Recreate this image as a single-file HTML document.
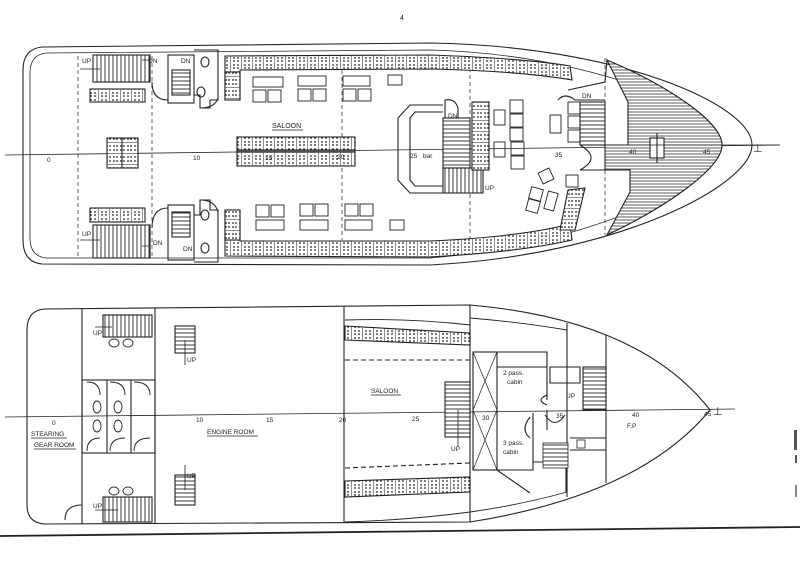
<!DOCTYPE html>
<html><head><meta charset="utf-8"><style>
html,body{margin:0;padding:0;background:#fff;}
svg{display:block;}
text{font-family:"Liberation Sans",sans-serif;fill:#222;}
</style></head><body>
<svg width="800" height="577" viewBox="0 0 800 577" xmlns="http://www.w3.org/2000/svg">
<defs>
<pattern id="seat" width="11" height="7" patternUnits="userSpaceOnUse">
<rect width="11" height="7" fill="#fff"/>
<circle cx="3" cy="2" r="0.9" fill="#222"/><circle cx="7" cy="2" r="0.9" fill="#222"/>
<circle cx="3" cy="5" r="0.9" fill="#222"/><circle cx="7" cy="5" r="0.9" fill="#222"/>
<line x1="10.5" y1="0" x2="10.5" y2="7" stroke="#444" stroke-width="0.6"/>
</pattern>
<pattern id="seatv" width="7" height="11" patternUnits="userSpaceOnUse">
<rect width="7" height="11" fill="#fff"/>
<circle cx="2" cy="3" r="0.9" fill="#222"/><circle cx="5" cy="3" r="0.9" fill="#222"/>
<circle cx="2" cy="7" r="0.9" fill="#222"/><circle cx="5" cy="7" r="0.9" fill="#222"/>
<line x1="0" y1="10.5" x2="7" y2="10.5" stroke="#444" stroke-width="0.6"/>
</pattern>
<pattern id="hatch" width="4" height="3" patternUnits="userSpaceOnUse">
<rect width="4" height="3" fill="#fff"/><line x1="0" y1="1" x2="4" y2="1" stroke="#333" stroke-width="0.8"/>
</pattern>
<pattern id="stairv" width="4" height="10" patternUnits="userSpaceOnUse">
<rect width="4" height="10" fill="#fff"/><line x1="1" y1="0" x2="1" y2="10" stroke="#222" stroke-width="0.9"/>
</pattern>
<pattern id="stairh" width="10" height="4" patternUnits="userSpaceOnUse">
<rect width="10" height="4" fill="#fff"/><line x1="0" y1="1" x2="10" y2="1" stroke="#222" stroke-width="0.9"/>
</pattern>
</defs>

<g fill="none" stroke="#222" stroke-width="1.1">
<!-- ================= UPPER DECK ================= -->
<path d="M42 47 L430 43 C620 46 752 105 752 145 C752 185 620 255 430 265 L42 264 Q23 262 23 240 L23 70 Q23 49 42 47 Z"/>
<path d="M46 53 L430 50 C590 54 722 110 722 145 C722 180 590 245 430 258 L46 258 Q30 256 30 238 L30 73 Q30 55 46 53 Z" stroke-width="0.8"/>
<!-- centerline -->
<line x1="5" y1="155" x2="780" y2="145" stroke-width="0.8"/>
<!-- dashed frames -->
<g stroke-dasharray="4,3" stroke-width="0.7">
<line x1="78" y1="56" x2="78" y2="256"/><line x1="152" y1="56" x2="152" y2="256"/>
<line x1="342" y1="70" x2="342" y2="240"/><line x1="470" y1="68" x2="470" y2="240"/>
<line x1="605" y1="58" x2="605" y2="235"/>
</g>
<!-- top seat strip -->
<path d="M225 56 L430 55 Q520 58 570 66 L572 80 Q520 71 430 69 L240 70 L240 100 L225 100 Z" fill="url(#seat)"/>
<path d="M225 256 L430 257 Q520 252 572 240 L570 224 Q520 237 430 241 L240 241 L240 210 L225 210 Z" fill="url(#seat)"/>
<!-- center bench -->
<rect x="237" y="137" width="118" height="13" fill="url(#seat)"/>
<rect x="237" y="152" width="118" height="14" fill="url(#seat)"/>
<rect x="237" y="150" width="118" height="2" fill="#888"/>
<!-- left table -->
<rect x="107" y="138" width="31" height="30" fill="url(#seatv)"/>
<line x1="122" y1="138" x2="122" y2="168"/>
<!-- left stairs -->
<rect x="93" y="55" width="57" height="27" fill="url(#stairv)"/>
<rect x="90" y="89" width="55" height="13" fill="url(#seat)"/>
<rect x="93" y="225" width="57" height="33" fill="url(#stairv)"/>
<rect x="90" y="208" width="55" height="14" fill="url(#seat)"/>
<path d="M80 69 L100 69 M80 240 L100 240 M142 60 L150 60 M142 246 L150 246" stroke-width="0.8"/>
<!-- stair boxes and toilets -->
<rect x="168" y="55" width="26" height="48"/>
<rect x="172" y="70" width="18" height="25" fill="url(#stairh)"/>
<rect x="168" y="205" width="26" height="55"/>
<rect x="172" y="212" width="18" height="25" fill="url(#stairh)"/>
<path d="M194 50 L218 50 L218 100 L210 100 L210 108 L200 108 L200 95 L194 95"/>
<path d="M194 262 L218 262 L218 210 L210 210 L210 200 L200 200 L200 215 L194 215"/>
<path d="M152 82 Q152 100 168 100" /><path d="M152 228 Q152 208 168 208"/>
<path d="M200 108 Q215 108 218 98"/><path d="M200 200 Q215 200 218 212"/>
<ellipse cx="205" cy="62" rx="4" ry="5"/><ellipse cx="201" cy="92" rx="4" ry="5"/>
<ellipse cx="205" cy="215" rx="4" ry="5"/><ellipse cx="205" cy="248" rx="4" ry="5"/>
<rect x="225" y="72" width="15" height="28" fill="url(#seatv)"/>
<rect x="225" y="210" width="15" height="30" fill="url(#seatv)"/>
<!-- saloon tables -->
<g stroke-width="0.9">
<rect x="253" y="77" width="30" height="10"/><rect x="298" y="76" width="28" height="10"/><rect x="343" y="76" width="27" height="10"/><rect x="388" y="75" width="14" height="10"/>
<rect x="253" y="90" width="13" height="12"/><rect x="268" y="90" width="13" height="12"/>
<rect x="298" y="89" width="13" height="12"/><rect x="313" y="89" width="13" height="12"/>
<rect x="343" y="89" width="13" height="12"/><rect x="358" y="89" width="13" height="12"/>
<rect x="256" y="220" width="28" height="10"/><rect x="300" y="220" width="28" height="10"/><rect x="345" y="220" width="27" height="10"/><rect x="390" y="220" width="14" height="10"/>
<rect x="256" y="205" width="13" height="12"/><rect x="271" y="205" width="13" height="12"/>
<rect x="300" y="204" width="13" height="12"/><rect x="315" y="204" width="13" height="12"/>
<rect x="345" y="204" width="13" height="12"/><rect x="360" y="204" width="13" height="12"/>
</g>
<!-- bar -->
<path d="M443 105 L410 105 L398 118 L398 180 L410 193 L443 193"/>
<path d="M443 112 L415 112 L410 118 L410 180 L415 186 L443 186"/>
<rect x="443" y="118" width="27" height="50" fill="url(#stairh)"/>
<rect x="443" y="168" width="40" height="25" fill="url(#stairv)"/>
<path d="M445 118 L445 100 Q455 98 458 108 L458 118"/>
<rect x="472" y="102" width="17" height="68" fill="url(#seatv)"/>
<g stroke-width="0.9">
<rect x="494" y="110" width="11" height="15"/><rect x="494" y="142" width="11" height="15"/>
<rect x="510" y="100" width="13" height="13"/><rect x="510" y="114" width="13" height="13"/><rect x="510" y="128" width="13" height="13"/><rect x="511" y="142" width="13" height="13"/><rect x="511" y="156" width="13" height="13"/>
<rect x="550" y="115" width="11" height="18"/>
<rect x="568" y="102" width="12" height="12"/><rect x="568" y="116" width="12" height="12"/><rect x="568" y="130" width="12" height="12"/>
<rect x="566" y="175" width="12" height="12"/>
<rect x="540" y="170" width="12" height="12" transform="rotate(-25 546 176)"/>
<rect x="530" y="188" width="12" height="12" transform="rotate(15 536 194)"/><rect x="527" y="200" width="12" height="12" transform="rotate(15 533 206)"/>
<rect x="546" y="192" width="10" height="18" transform="rotate(15 551 201)"/>
</g>
<path d="M568 190 L585 188 L575 230 L560 230 Z" fill="url(#seatv)"/>
<!-- forward stair -->
<rect x="580" y="102" width="25" height="43" fill="url(#stairh)"/>
<path d="M558 100 Q565 92 575 100 L605 100"/>
<path d="M568 90 L605 82 L607 60"/>
<path d="M580 145 L628 145 M580 170 L628 170 M580 145 Q602 158 580 170"/>
<!-- hatched foredeck -->
<path d="M607 60 C660 82 722 120 722 145 C722 170 660 210 607 235 L630 192 L630 170 L605 170 L605 145 L628 145 L628 102 Z" fill="url(#hatch)"/>
<rect x="650" y="138" width="14" height="20" fill="#fff"/>
<line x1="657" y1="133" x2="657" y2="163"/>
<line x1="600" y1="145" x2="780" y2="145" stroke-width="0.8"/>

<!-- ================= LOWER DECK ================= -->
<path d="M45 309 L470 305 Q640 320 710 410 Q640 495 470 522 L45 524 Q27 523 27 505 L27 330 Q27 310 45 309 Z"/>
<line x1="5" y1="417" x2="735" y2="409" stroke-width="0.8"/>
<line x1="0" y1="536" x2="800" y2="527" stroke-width="1.8"/>
<line x1="82" y1="309" x2="82" y2="524"/><line x1="155" y1="308" x2="155" y2="524"/>
<line x1="344" y1="307" x2="344" y2="523"/><line x1="470" y1="305" x2="470" y2="522"/>
<line x1="567" y1="323" x2="567" y2="497"/><line x1="606" y1="335" x2="606" y2="483"/>
<!-- toilet block -->
<rect x="82" y="380" width="73" height="73"/>
<line x1="107" y1="380" x2="107" y2="453"/><line x1="131" y1="380" x2="131" y2="453"/>
<g stroke-width="0.9">
<ellipse cx="97" cy="407" rx="4" ry="6"/><ellipse cx="97" cy="426" rx="4" ry="6"/>
<ellipse cx="118" cy="407" rx="4" ry="6"/><ellipse cx="118" cy="426" rx="4" ry="6"/>
<path d="M87 382 Q100 382 100 395 M110 382 Q125 382 125 395 M134 382 Q150 382 150 395"/>
<path d="M87 451 Q87 438 100 438 M110 451 Q110 438 125 438 M134 451 Q134 438 150 438"/>
<ellipse cx="114" cy="343" rx="5" ry="4"/><ellipse cx="128" cy="343" rx="5" ry="4"/>
<ellipse cx="114" cy="491" rx="5" ry="4"/><ellipse cx="128" cy="491" rx="5" ry="4"/>
</g>
<rect x="103" y="315" width="49" height="22" fill="url(#stairv)"/>
<rect x="103" y="497" width="49" height="25" fill="url(#stairv)"/>
<path d="M95 327 L112 327 M95 510 L118 510" stroke-width="0.8"/>
<path d="M65 520 Q65 505 82 505"/>
<!-- engine room ladders -->
<rect x="175" y="326" width="20" height="27" fill="url(#stairh)"/>
<rect x="175" y="475" width="20" height="30" fill="url(#stairh)"/>
<line x1="185" y1="340" x2="185" y2="365" stroke-width="0.8"/><line x1="185" y1="465" x2="185" y2="490" stroke-width="0.8"/>
<!-- lower saloon -->
<path d="M345 320 Q410 318 470 325 M345 522 Q410 520 470 512" stroke-width="0.9"/>
<path d="M345 326 L470 333 L470 345 L345 340 Z" fill="url(#seat)"/>
<path d="M345 481 L470 477 L470 492 L345 497 Z" fill="url(#seat)"/>
<line x1="345" y1="360" x2="470" y2="360" stroke-dasharray="5,3"/>
<line x1="345" y1="468" x2="470" y2="463" stroke-dasharray="5,3"/>
<rect x="445" y="382" width="25" height="55" fill="url(#stairh)"/>
<line x1="458" y1="410" x2="458" y2="447" stroke-width="0.8"/>
<!-- cabins -->
<path d="M470 318 Q520 322 567 330" stroke-width="0.9"/>
<path d="M470 512 Q520 505 567 492" stroke-width="0.9"/>
<rect x="473" y="352" width="24" height="118"/>
<path d="M473 352 L497 410 M497 352 L473 410 M473 410 L497 470 M497 410 L473 470" stroke-width="0.7"/>
<path d="M497 352 L547 352 L547 367 M497 367 L547 367"/>
<path d="M547 367 L547 400 M547 410 L547 430"/>
<path d="M550 367 L580 367 L580 383 L550 383 Z"/>
<rect x="583" y="367" width="23" height="43" fill="url(#stairh)"/>
<path d="M533 413 L533 470 L497 470 M497 470 L530 493 M533 462 L566 462 L566 492"/>
<rect x="543" y="443" width="25" height="25" fill="url(#stairh)" stroke-width="0.8"/>
<path d="M570 438 L606 438 M570 450 L606 450"/>
<rect x="577" y="440" width="8" height="8" stroke-width="0.8"/>
<path d="M547 395 Q535 400 547 405 M545 415 Q555 430 565 415 M530 417 Q520 430 530 438"/>

<!-- right margin marks -->
<rect x="794" y="430" width="3" height="20" fill="#555" stroke="none"/>
<rect x="795" y="455" width="2" height="8" fill="#555" stroke="none"/>
<rect x="795" y="485" width="2" height="12" fill="#888" stroke="none"/>
</g>

<!-- ===== TEXT ===== -->
<g font-size="6.5">
<text x="272" y="128" font-size="7">SALOON</text>
<line x1="272" y1="130" x2="303" y2="130" stroke="#222" stroke-width="0.7"/>
<text x="47" y="162">0</text><text x="193" y="160">10</text><text x="265" y="160">15</text><text x="337" y="159">20</text>
<text x="410" y="158">25</text><text x="423" y="158">bar</text><text x="555" y="157">35</text><text x="629" y="154">40</text><text x="703" y="154">45</text>
<text x="82" y="63">UP</text><text x="148" y="63">DN</text><text x="181" y="63">DN</text>
<text x="82" y="236">UP</text><text x="153" y="245">DN</text><text x="183" y="251">DN</text>
<text x="448" y="118">DN</text><text x="485" y="190">UP</text><text x="582" y="98">DN</text>
<text x="753" y="152" font-size="11">⊥</text>

<text x="52" y="425">0</text>
<text x="31" y="436">STEARING</text><line x1="31" y1="438" x2="67" y2="438" stroke="#222" stroke-width="0.7"/>
<text x="34" y="447">GEAR ROOM</text><line x1="34" y1="449" x2="76" y2="449" stroke="#222" stroke-width="0.7"/>
<text x="207" y="434">ENGINE  ROOM</text><line x1="207" y1="436" x2="258" y2="436" stroke="#222" stroke-width="0.7"/>
<text x="371" y="393">SALOON</text><line x1="371" y1="395" x2="401" y2="395" stroke="#222" stroke-width="0.7"/>
<text x="196" y="422">10</text><text x="266" y="422">15</text><text x="339" y="422">20</text><text x="412" y="421">25</text>
<text x="482" y="420">30</text><text x="556" y="418">35</text><text x="632" y="417">40</text><text x="704" y="416">45</text>
<text x="627" y="428">F.P</text>
<text x="503" y="375">2  pass.</text><text x="507" y="384">cabin</text>
<text x="503" y="445">3  pass.</text><text x="503" y="454">cabin</text>
<text x="93" y="335">UP</text><text x="93" y="508">UP</text>
<text x="187" y="362">UP</text><text x="187" y="478">UP</text>
<text x="451" y="451">UP</text><text x="566" y="398">UP</text>
<text x="713" y="415" font-size="11">⊥</text>
<text x="400" y="20" font-size="7">4</text>
</g>
</svg>
</body></html>
